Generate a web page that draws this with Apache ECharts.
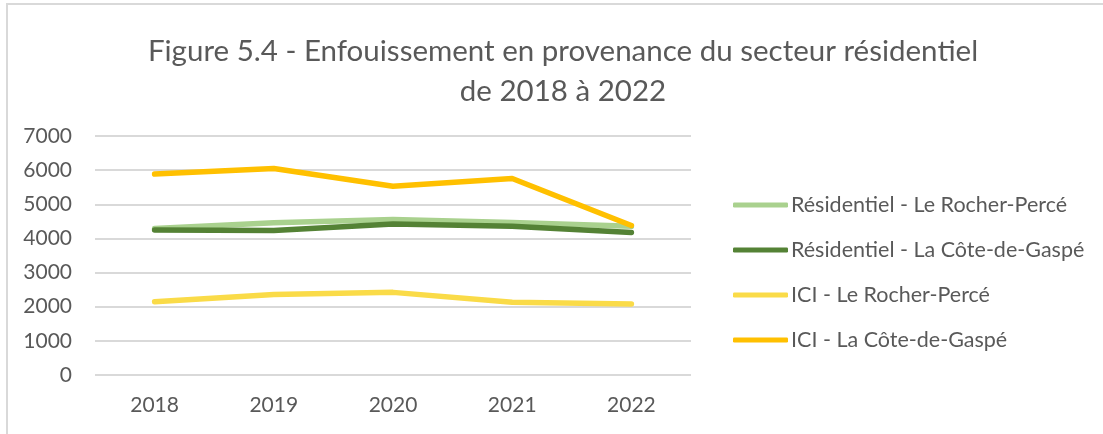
<!DOCTYPE html>
<html>
<head>
<meta charset="utf-8">
<script src="https://cdn.jsdelivr.net/npm/echarts@6/dist/echarts.min.js"></script>
<style>
  html, body { margin: 0; padding: 0; background: #fff; }
  #chart { width: 1103px; height: 434px; }
</style>
</head>
<body>
<div id="chart"></div>
<script>
const years = ['2018', '2019', '2020', '2021', '2022']
const resRocherPerce = [4290, 4460, 4555, 4470, 4355]
const resCoteGaspe = [4245, 4230, 4420, 4360, 4175]
const iciRocherPerce = [2145, 2360, 2420, 2130, 2080]
const iciCoteGaspe = [5885, 6050, 5530, 5755, 4380]
const seriesNames = [
  'Résidentiel - Le Rocher-Percé',
  'Résidentiel - La Côte-de-Gaspé',
  'ICI - Le Rocher-Percé',
  'ICI - La Côte-de-Gaspé'
]
const colors = ['#A9D18E', '#548235', '#FADB48', '#FFC000']

const font = 'Lato, "Open Sans", sans-serif'
const textColor = '#595959'

const chart = echarts.init(document.getElementById('chart'))

function lineSerie(name, data, i) {
  return {
    name: name,
    type: 'line',
    data: data,
    symbol: 'none',
    z: 2 + i,
    lineStyle: { width: 5.5, color: colors[i], cap: 'round', join: 'round' },
    itemStyle: { color: colors[i] }
  }
}

chart.setOption({
  animation: false,
  color: colors,
  textStyle: { fontFamily: font },
  graphic: [{
    type: 'rect',
    shape: { x: 7, y: 4, width: 1120, height: 460 },
    style: { fill: 'none', stroke: '#D9D9D9', lineWidth: 2 },
    silent: true
  }],
  title: {
    text: 'Figure 5.4 - Enfouissement en provenance du secteur résidentiel\nde 2018 à 2022',
    left: 558,
    top: 26,
    textAlign: 'center',
    textStyle: {
      color: textColor,
      fontFamily: font,
      fontSize: 29.5,
      fontWeight: 'normal',
      lineHeight: 40
    }
  },
  legend: {
    orient: 'vertical',
    left: 728,
    top: 189,
    icon: 'roundRect',
    itemWidth: 55,
    itemHeight: 5,
    itemGap: 23,
    data: seriesNames,
    textStyle: { color: textColor, fontFamily: font, fontSize: 21.5, lineHeight: 22, padding: [0, 0, 0, -2] }
  },
  grid: {
    left: 95,
    right: 412,
    top: 136,
    bottom: 59,
    containLabel: false
  },
  xAxis: {
    type: 'category',
    data: years,
    boundaryGap: true,
    axisLine: { show: false },
    axisTick: { show: false },
    axisLabel: { color: textColor, fontFamily: font, fontSize: 21, margin: 20 }
  },
  yAxis: {
    type: 'value',
    min: 0,
    max: 7000,
    interval: 1000,
    axisLine: { show: false },
    axisTick: { show: false },
    axisLabel: {
      color: textColor,
      fontFamily: font,
      fontSize: 21,
      margin: 23,
      formatter: function (v) { return String(v) }
    },
    splitLine: { lineStyle: { color: '#D9D9D9', width: 2 } }
  },
  series: [
    lineSerie(seriesNames[0], resRocherPerce, 0),
    lineSerie(seriesNames[1], resCoteGaspe, 1),
    lineSerie(seriesNames[2], iciRocherPerce, 2),
    lineSerie(seriesNames[3], iciCoteGaspe, 3)
  ]
})
</script>
</body>
</html>
